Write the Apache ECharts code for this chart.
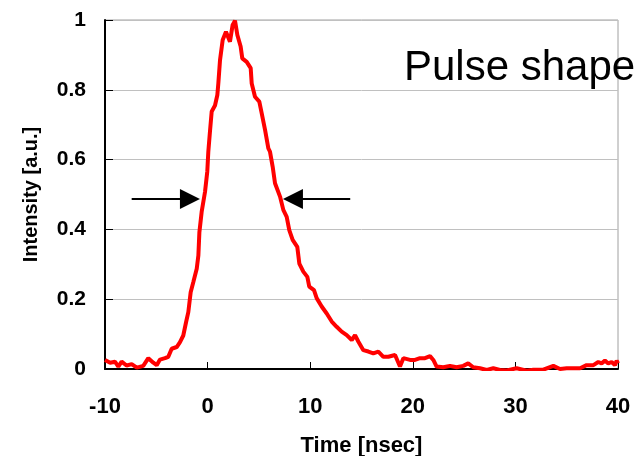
<!DOCTYPE html>
<html>
<head>
<meta charset="utf-8">
<script src="https://cdn.jsdelivr.net/npm/echarts@6/dist/echarts.min.js"></script>
<style>
html,body{margin:0;padding:0;background:#fff;}
#chart{width:639px;height:456px;}
</style>
</head>
<body>
<div id="chart"></div>
<script>
// Data
const timeNs = [-10,-9.5,-9.03,-8.7,-8.38,-7.9,-7.4,-6.9,-6.27,-5.78,-5.29,-4.96,-4.64,-4.15,-3.83,-3.5,-3.01,-2.69,-2.37,-2.1,-1.88,-1.65,-1.39,-1.06,-0.9,-0.8,-0.58,-0.25,-0.03,0.07,0.23,0.4,0.72,0.95,1.05,1.21,1.47,1.79,2.18,2.44,2.67,2.9,3.22,3.38,3.81,4.2,4.3,4.62,5.04,5.27,5.6,5.92,6.08,6.34,6.57,7.06,7.38,7.71,7.96,8.29,8.74,8.94,9.33,9.72,9.91,10.37,10.63,11.12,11.61,12.1,12.58,13.07,13.56,14.05,14.37,14.7,15.18,15.67,16.15,16.64,17.13,17.62,18.27,18.75,19.08,19.73,20.21,20.7,21.19,21.68,22.0,22.32,22.97,23.62,24.27,24.92,25.4,25.89,26.55,27.2,27.85,28.5,29.15,30.12,31.1,31.75,32.72,33.7,34.35,35,35.64,36.3,36.94,37.6,38.08,38.4,38.73,39.05,39.38,39.7,39.87,40];
const intensity = [0.026,0.018,0.021,0.007,0.021,0.01,0.014,0.004,0.009,0.031,0.018,0.011,0.027,0.031,0.035,0.058,0.063,0.077,0.096,0.134,0.163,0.22,0.249,0.287,0.325,0.392,0.45,0.508,0.566,0.623,0.68,0.738,0.755,0.785,0.82,0.885,0.943,0.966,0.938,0.986,0.998,0.957,0.924,0.89,0.88,0.862,0.818,0.78,0.766,0.733,0.685,0.632,0.623,0.58,0.532,0.494,0.456,0.436,0.398,0.37,0.35,0.302,0.279,0.264,0.236,0.226,0.203,0.179,0.159,0.136,0.121,0.107,0.097,0.083,0.097,0.078,0.054,0.05,0.045,0.05,0.035,0.035,0.04,0.007,0.031,0.026,0.026,0.031,0.031,0.037,0.026,0.007,0.005,0.009,0.005,0.009,0.016,0.005,0.002,-0.003,0.002,-0.003,-0.004,0.002,-0.005,-0.002,-0.002,0.009,0.0,0.002,0.002,0.002,0.011,0.011,0.02,0.016,0.024,0.016,0.02,0.011,0.024,0.016];
const xTicks = [-10, 0, 10, 20, 30, 40];
const yTicks = [0, 0.2, 0.4, 0.6, 0.8, 1];
// FWHM arrow annotation: [tail x, head-centre x], at y level
const arrowLeft = [-7.4, -1.72];
const arrowRight = [13.9, 8.32];
const arrowLevel = [0.487];
const titleText = 'Pulse shape';

const FONT = '"Liberation Sans", Arial, sans-serif';
const chart = echarts.init(document.getElementById('chart'), null, {renderer: 'canvas'});
const seriesData = timeNs.map((t, i) => [t, intensity[i]]);

chart.setOption({
  animation: false,
  backgroundColor: '#ffffff',
  grid: {
    left: 105, top: 20, right: 21, bottom: 87,
    show: true, borderColor: '#a0a0a0', borderWidth: 1,
    containLabel: false, outerBoundsMode: 'none'
  },
  xAxis: {
    type: 'value',
    min: xTicks[0], max: xTicks[xTicks.length - 1], interval: 10,
    name: 'Time [nsec]', nameLocation: 'middle', nameGap: 66,
    nameTextStyle: {fontFamily: FONT, fontWeight: 'bold', fontSize: 22, color: '#000'},
    axisLine: {show: true, onZero: false, lineStyle: {color: '#000', width: 2}},
    axisTick: {show: true, inside: true, length: 7, lineStyle: {color: '#000', width: 1}},
    axisLabel: {fontFamily: FONT, fontWeight: 'bold', fontSize: 22, color: '#000', margin: 27},
    splitLine: {show: false}
  },
  yAxis: {
    type: 'value',
    min: yTicks[0], max: yTicks[yTicks.length - 1], interval: 0.2,
    name: 'Intensity [a.u.]', nameLocation: 'middle', nameGap: 64,
    nameTextStyle: {fontFamily: FONT, fontWeight: 'bold', fontSize: 20, color: '#000'},
    axisLine: {show: true, onZero: false, lineStyle: {color: '#000', width: 2}},
    axisTick: {show: true, inside: true, length: 8, lineStyle: {color: '#000', width: 1}},
    axisLabel: {fontFamily: FONT, fontWeight: 'bold', fontSize: 21, color: '#000', margin: 19,
      formatter: v => String(+v.toFixed(1))},
    splitLine: {show: true, lineStyle: {color: '#c0c0c0', width: 1}}
  },
  graphic: [{
    type: 'text', left: 404, top: 47, silent: true,
    style: {text: titleText, font: '42px ' + FONT, fill: '#000'}
  }],
  series: [{
    type: 'line',
    data: seriesData,
    showSymbol: false,
    symbol: 'none',
    clip: true,
    lineStyle: {color: '#ff0000', width: 4},
    markLine: {
      silent: true,
      animation: false,
      symbol: ['none', 'triangle'],
      symbolSize: [20, 20],
      label: {show: false},
      emphasis: {disabled: true},
      lineStyle: {color: '#000', width: 2, type: 'solid'},
      data: [
        [{coord: [arrowLeft[0], arrowLevel[0]]}, {coord: [arrowLeft[1], arrowLevel[0]]}],
        [{coord: [arrowRight[0], arrowLevel[0]]}, {coord: [arrowRight[1], arrowLevel[0]]}]
      ]
    }
  }]
});
</script>
</body>
</html>
